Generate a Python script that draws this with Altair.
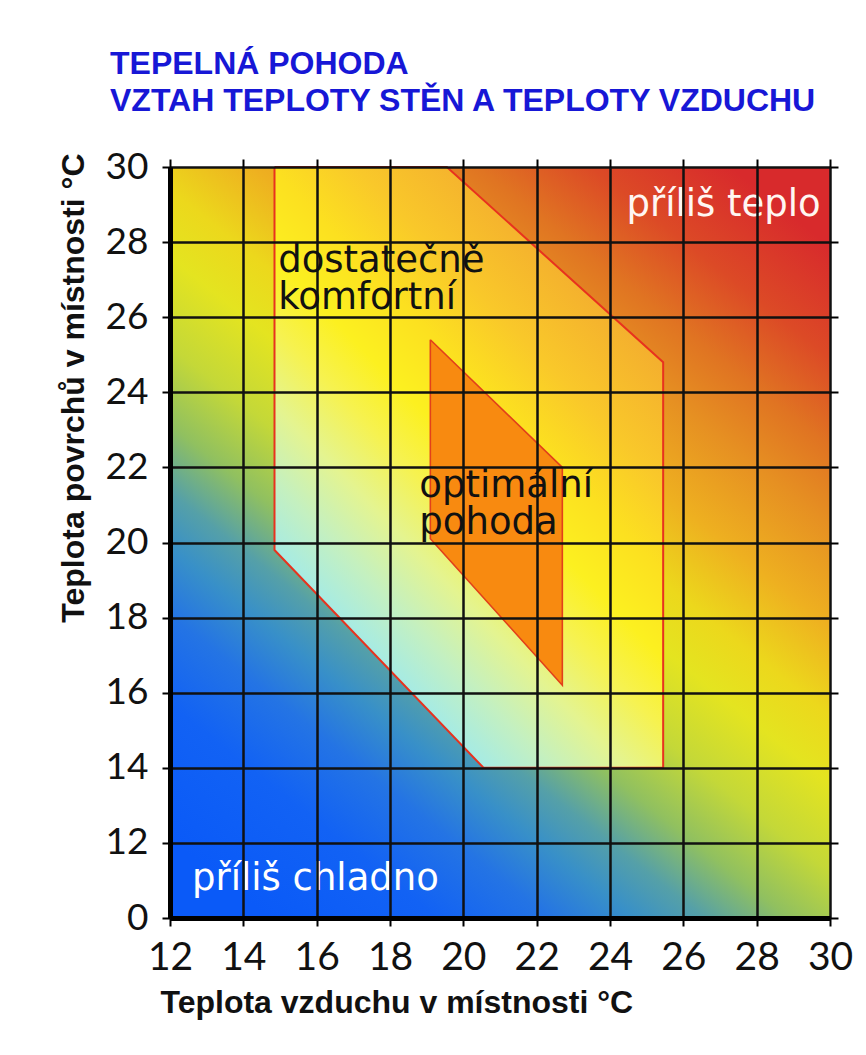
import altair as alt
import pandas as pd

# ---------------- data ----------------
TITLE_LINES = ["TEPELNÁ POHODA", "VZTAH TEPLOTY STĚN A TEPLOTY VZDUCHU"]
X_TITLE = "Teplota vzduchu v místnosti °C"
Y_TITLE = "Teplota povrchů v místnosti °C"

X_DOMAIN = [12, 30]
Y_DOMAIN = [10, 30]          # lowest band is labelled "0"
X_TICKS = [12, 14, 16, 18, 20, 22, 24, 26, 28, 30]
Y_TICKS = [10, 12, 14, 16, 18, 20, 22, 24, 26, 28, 30]
Y_TICK_LABELS = ["0", "12", "14", "16", "18", "20", "22", "24", "26", "28", "30"]

# "dostatečně komfortní" zone (closed polygon)
COMFORT_X = [14.85, 19.55, 25.45, 25.45, 20.55, 14.85, 14.85]
COMFORT_Y = [30.0, 30.0, 24.8, 14.0, 14.0, 19.8, 30.0]
# "optimální pohoda" zone (closed polygon)
OPTIMAL_X = [19.1, 22.7, 22.7, 19.1, 19.1]
OPTIMAL_Y = [25.4, 22.0, 16.2, 20.1, 25.4]

LABEL_TEXT = ["příliš teplo", "dostatečně\nkomfortní", "optimální\npohoda", "příliš chladno"]
LABEL_X = [24.45, 14.95, 18.8, 12.6]
LABEL_Y = [28.7, 27.2, 21.2, 10.75]
LABEL_COLOR = ["#fff6f2", "#111111", "#111111", "#ffffff"]

# ---------------- tables ----------------
bg = pd.DataFrame({"x0": [X_DOMAIN[0]], "x1": [X_DOMAIN[1]],
                   "y0": [Y_DOMAIN[0]], "y1": [Y_DOMAIN[1]]})
comfort = pd.DataFrame({"x": COMFORT_X, "y": COMFORT_Y, "i": list(range(len(COMFORT_X)))})
optimal = pd.DataFrame({"x": OPTIMAL_X, "y": OPTIMAL_Y, "i": list(range(len(OPTIMAL_X)))})
labels = pd.DataFrame({"t": LABEL_TEXT, "x": LABEL_X, "y": LABEL_Y, "c": LABEL_COLOR})

xs = alt.Scale(domain=X_DOMAIN, nice=False, zero=False)
ys = alt.Scale(domain=Y_DOMAIN, nice=False, zero=False)

y_label_expr = " : ".join(
    [f"datum.value == {v} ? '{l}'" for v, l in zip(Y_TICKS, Y_TICK_LABELS)]
) + " : datum.label"

x_axis_main = alt.Axis(values=X_TICKS, grid=True, gridColor="#111111", gridWidth=2.5,
                       domainColor="#000000", domainWidth=5, tickColor="#000000",
                       tickWidth=2, tickSize=8, labelFont="Lato", labelFontSize=39,
                       labelColor="#111111", labelPadding=12, labelFlush=False,
                       title=X_TITLE, titleFont="Liberation Sans", titleFontSize=32,
                       titleFontWeight="bold", titleColor="#111111", titleAnchor="start",
                       titleAlign="left", titleBaseline="alphabetic", titleX=-10, titleY=94,
                       zindex=1, orient="bottom")
y_axis_main = alt.Axis(values=Y_TICKS, grid=True, gridColor="#111111", gridWidth=2.5,
                       domainColor="#000000", domainWidth=5, tickColor="#000000",
                       tickWidth=2, tickSize=8, labelFont="Lato", labelFontSize=37,
                       labelColor="#111111", labelPadding=14, labelFlush=False,
                       labelExpr=y_label_expr,
                       title=Y_TITLE, titleFont="Liberation Sans", titleFontSize=32,
                       titleFontWeight="bold", titleColor="#111111", titleAngle=-90,
                       titleAlign="right", titleBaseline="alphabetic", titleX=-87, titleY=-14,
                       zindex=1, orient="left")
x_axis_top = alt.Axis(values=X_TICKS, grid=False, domain=False, labels=False, title=None,
                      tickColor="#000000", tickWidth=2, tickSize=8, orient="top", zindex=1)
y_axis_right = alt.Axis(values=Y_TICKS, grid=False, domain=False, labels=False, title=None,
                        tickColor="#000000", tickWidth=2, tickSize=8, orient="right", zindex=1)

bg_gradient = alt.Gradient(
    gradient="linear", x1=0.15, y1=1, x2=0.85, y2=0,
    stops=[
        alt.GradientStop(offset=0.0, color="#0a5af8"),
        alt.GradientStop(offset=0.12, color="#1262f4"),
        alt.GradientStop(offset=0.2, color="#2474e4"),
        alt.GradientStop(offset=0.26, color="#3890c8"),
        alt.GradientStop(offset=0.31, color="#55a0a8"),
        alt.GradientStop(offset=0.37, color="#90c060"),
        alt.GradientStop(offset=0.44, color="#c4d838"),
        alt.GradientStop(offset=0.52, color="#e4e420"),
        alt.GradientStop(offset=0.58, color="#ecd81c"),
        alt.GradientStop(offset=0.66, color="#eeb020"),
        alt.GradientStop(offset=0.75, color="#e69022"),
        alt.GradientStop(offset=0.82, color="#e07422"),
        alt.GradientStop(offset=0.9, color="#dc4a26"),
        alt.GradientStop(offset=1.0, color="#d82a2c"),
    ],
)

comfort_gradient = alt.Gradient(
    gradient="linear", x1=0.27, y1=0.82, x2=0.72, y2=0.145,
    stops=[
        alt.GradientStop(offset=0.0, color="#a6ebe4"),
        alt.GradientStop(offset=0.12, color="#c4f0c0"),
        alt.GradientStop(offset=0.25, color="#e4f490"),
        alt.GradientStop(offset=0.38, color="#f6f250"),
        alt.GradientStop(offset=0.5, color="#fcf020"),
        alt.GradientStop(offset=0.65, color="#fce020"),
        alt.GradientStop(offset=0.8, color="#f9c82a"),
        alt.GradientStop(offset=1.0, color="#f4b02e"),
    ],
)

background = alt.Chart(bg).mark_rect(fill=bg_gradient).encode(
    x=alt.X("x0:Q", scale=xs, axis=x_axis_main),
    x2="x1",
    y=alt.Y("y0:Q", scale=ys, axis=y_axis_main),
    y2="y1",
)

comfort_zone = alt.Chart(comfort).mark_line(
    fill=comfort_gradient, stroke="#e8321e", strokeWidth=2, strokeJoin="miter"
).encode(
    x=alt.X("x:Q", scale=xs, axis=x_axis_top),
    y=alt.Y("y:Q", scale=ys, axis=y_axis_right),
    order="i:Q",
)

optimal_zone = alt.Chart(optimal).mark_line(
    fill="#f88a10", stroke="#e2401a", strokeWidth=1.6, strokeJoin="miter"
).encode(
    x=alt.X("x:Q", scale=xs, axis=None),
    y=alt.Y("y:Q", scale=ys, axis=None),
    order="i:Q",
)

texts = alt.Chart(labels).mark_text(
    align="left", baseline="alphabetic", font="DejaVu Sans", fontSize=37,
    lineBreak="\n", lineHeight=37
).encode(
    x=alt.X("x:Q", scale=xs, axis=None),
    y=alt.Y("y:Q", scale=ys, axis=None),
    text="t:N",
    color=alt.Color("c:N", scale=None),
)

chart = alt.layer(background, comfort_zone, optimal_zone, texts).resolve_axis(
    x="independent", y="independent"
).properties(
    width=660,
    height=751,
    autosize=alt.AutoSizeParams(type="none"),
    padding={"left": 170, "top": 167, "right": 36, "bottom": 137},
    background="#ffffff",
    title=alt.TitleParams(
        text=TITLE_LINES, anchor="start", frame="group", dx=-60, offset=30,
        font="Liberation Sans", fontSize=32, fontWeight="bold", color="#1717d6",
        lineHeight=37,
    ),
).configure_view(stroke=None)

chart.save("out.html", embed_options={"renderer": "svg", "actions": False})
